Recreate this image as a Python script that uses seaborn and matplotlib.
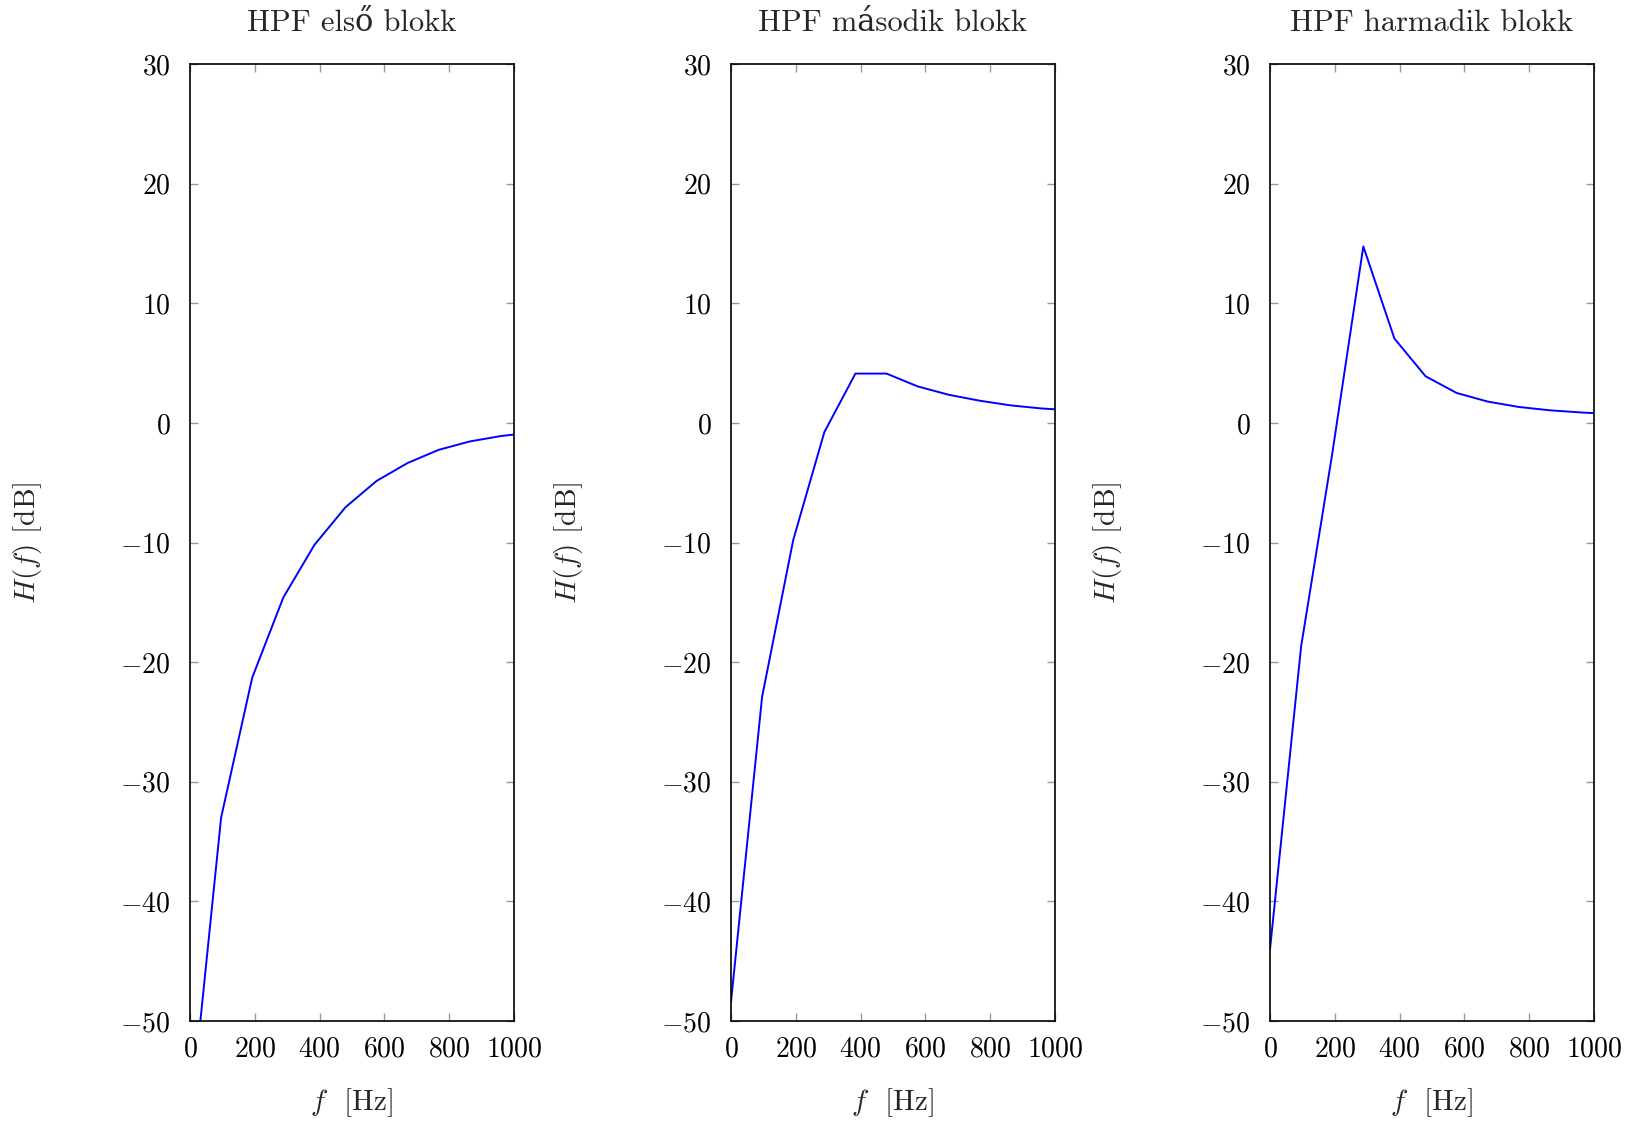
import matplotlib
matplotlib.use("Agg")
import matplotlib.pyplot as plt
import seaborn as sns
import pandas as pd

# ---- data ----
freqs = [0, 96, 192, 288, 384, 480, 576, 672, 768, 864, 960, 1056]
block1_db = [-58.5, -33.0, -21.3, -14.6, -10.2, -7.05, -4.85, -3.35, -2.25, -1.55, -1.1, -0.8]
block2_db = [-48.4, -22.9, -9.8, -0.78, 4.12, 4.12, 3.05, 2.35, 1.85, 1.46, 1.2, 1.05]
block3_db = [-44.0, -18.7, -2.6, 14.75, 7.05, 3.9, 2.5, 1.78, 1.33, 1.05, 0.87, 0.74]
titles = ["HPF első blokk", "HPF második blokk", "HPF harmadik blokk"]
x_ticks = [0, 200, 400, 600, 800, 1000]
y_ticks = [-50, -40, -30, -20, -10, 0, 10, 20, 30]

sns.set_theme(style="white")
plt.rcParams['font.family'] = ['cmr10', 'DejaVu Serif']
plt.rcParams['mathtext.fontset'] = 'cm'
plt.rcParams['axes.formatter.use_mathtext'] = True
plt.rcParams['axes.unicode_minus'] = True

fig = plt.figure(figsize=(16.39, 11.22), dpi=100)
W, H = 1639, 1122
lefts = [190, 731, 1270]
aw = 324
top, bottom = 64, 1021

series = [block1_db, block2_db, block3_db]
for left, vals, title in zip(lefts, series, titles):
    ax = fig.add_axes([left / W, 1 - bottom / H, aw / W, (bottom - top) / H])
    df = pd.DataFrame({"f": freqs, "H": vals})
    sns.lineplot(data=df, x="f", y="H", ax=ax, color="#0000ff", linewidth=1.4)
    ax.set_xlim(0, 1000)
    ax.set_ylim(-50, 30)
    ax.set_xticks(x_ticks)
    ax.set_yticks(y_ticks)
    ax.tick_params(axis="both", which="both", direction="in", length=6, width=1.0,
                   color="0.6", labelcolor="black", labelsize=20,
                   top=True, right=True, bottom=True, left=True)
    ax.tick_params(axis="x", pad=11)
    ax.tick_params(axis="y", pad=14)
    for sp in ax.spines.values():
        sp.set_visible(True)
        sp.set_color("black")
        sp.set_linewidth(1.2)
    ax.set_xlabel(r"$f$  [Hz]", fontsize=21)
    ax.set_ylabel(r"$H(f)$ [dB]", fontsize=21)
    ax.xaxis.set_label_coords(0.5, -0.068)
    ax.yaxis.set_label_coords(-0.45, 0.5)
    ax.set_title(title, fontsize=22, pad=24)
    ax.grid(False)

fig.savefig("out.png", dpi=100, facecolor="white")
